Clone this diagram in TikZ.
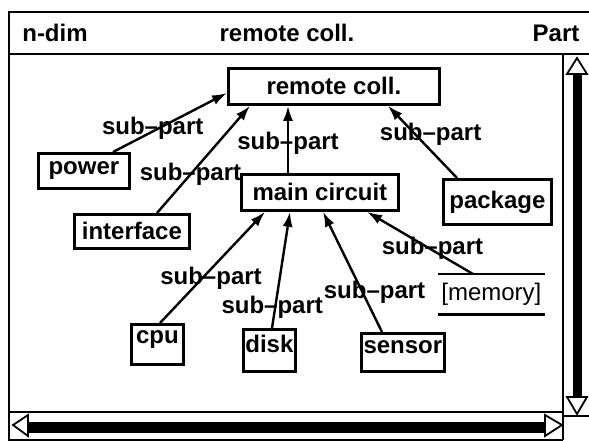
\documentclass[tikz,border=0pt]{standalone}
\usepackage{fontspec}
\setmainfont{Liberation Sans}
\usetikzlibrary{arrows.meta}

\begin{document}
\begin{tikzpicture}[x=1pt,y=-1pt,
  partbox/.style={draw,line width=2.8pt,anchor=north west,inner sep=2pt,
    font=\fontsize{24}{28}\selectfont\bfseries},
  subedge/.style={line width=2.4pt,-{Latex[length=15pt,width=10pt]}},
  sublabel/.style={font=\fontsize{24}{28}\selectfont\bfseries,inner sep=0pt},
  hdr/.style={font=\fontsize{24}{28}\selectfont\bfseries}]
  \useasboundingbox (0,0) rectangle (589,441);
  % window frame
  \draw[line width=2.2pt] (589,12)--(9,12)--(9,440)--(563,440);
  \draw[line width=2.2pt] (9,54)--(589,54);
  \draw[line width=1.8pt] (563,54)--(563,440);
  \draw[line width=1.8pt] (9,412)--(563,412);
  \draw[line width=1.8pt] (563,416)--(589,416);
  \node[hdr] (hdim) at (55,33) {n-dim};
  \node[hdr] (htitle) at (287,33) {remote coll.};
  \node[hdr] (hpart) at (556,33) {Part};
  % scroll bars
  \fill (573,74) rectangle (582,397);
  \draw[line width=1.8pt,fill=white] (577,58)--(587,74)--(567,74)--cycle;
  \draw[line width=1.8pt,fill=white] (577,414)--(587,397)--(567,397)--cycle;
  \fill (28,422) rectangle (545,433);
  \draw[line width=1.8pt,fill=white] (13,425)--(28,415)--(28,436)--cycle;
  \draw[line width=1.8pt,fill=white] (562,425)--(545,415)--(545,436)--cycle;
  % parts
  \node[partbox,minimum width=211pt,minimum height=36pt] (remote) at (227,67) {remote coll.};
  \node[partbox,minimum width=91pt,minimum height=35pt] (power) at (37,152) {power};
  \node[partbox,minimum width=115pt,minimum height=34pt] (interface) at (73,213) {interface};
  \node[partbox,minimum width=157pt,minimum height=36pt] (main) at (240,173) {main circuit};
  \node[partbox,minimum width=108pt,minimum height=45pt] (package) at (442,178) {package};
  \node[partbox,draw=none,font=\fontsize{24}{28}\selectfont,minimum width=100pt,minimum height=38pt] (memory) at (438,274) {[memory]};
  \draw[line width=2.8pt] (memory.north west)--(memory.north east);
  \draw[line width=2.8pt] (memory.south west)--(memory.south east);
  \node[partbox,text depth=15pt,minimum width=52pt,minimum height=40pt] (cpu) at (130,323) {cpu};
  \node[partbox,text depth=13pt,minimum width=51pt,minimum height=42pt] (disk) at (242,328) {disk};
  \node[partbox,text depth=10pt,minimum width=83pt,minimum height=38pt] (sensor) at (360,332) {sensor};
  % sub-part links
  \draw[subedge] ([xshift=76pt]power.north west) -- ([yshift=-26pt]remote.north west)
    node[sublabel,pos=.41,xshift=-7pt] (l1) {sub--part};
  \draw[subedge] ([xshift=84pt]interface.north west) -- ([xshift=23pt]remote.south west)
    node[sublabel,pos=.36] (l2) {sub--part};
  \draw[subedge] ([xshift=48pt]main.north west) -- ([xshift=61pt]remote.south west)
    node[sublabel,pos=.44] (l3) {sub--part};
  \draw[subedge] ([xshift=15pt]package.north west) -- ([xshift=161pt]remote.south west)
    node[sublabel,pos=.6,xshift=15pt] (l4) {sub--part};
  \draw[subedge] ([xshift=30pt]cpu.north west) -- ([xshift=25pt]main.south west)
    node[sublabel,pos=.4,xshift=9pt] (l5) {sub--part};
  \draw[subedge] ([xshift=30pt]disk.north west) -- ([xshift=50pt]main.south west)
    node[sublabel,pos=.18,xshift=-3pt] (l6) {sub--part};
  \draw[subedge] ([xshift=22pt]sensor.north west) -- ([xshift=83pt]main.south west)
    node[sublabel,pos=.33,xshift=12pt] (l7) {sub--part};
  \draw[subedge] ([xshift=35pt]memory.north west) -- ([xshift=127pt]main.south west)
    node[sublabel,pos=.42,xshift=4pt] (l8) {sub--part};
\end{tikzpicture}
\end{document}
